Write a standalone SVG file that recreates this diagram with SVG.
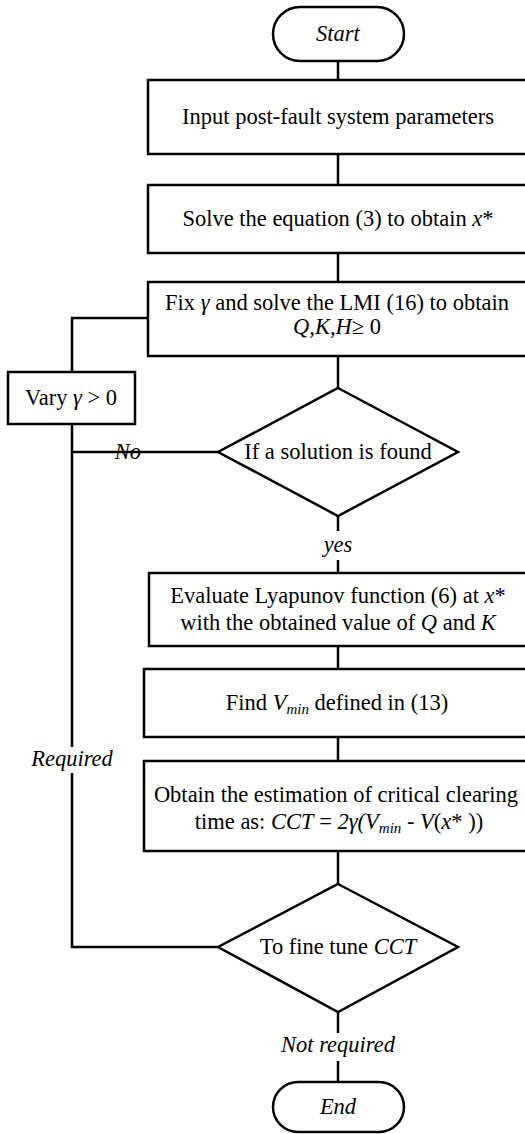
<svg xmlns="http://www.w3.org/2000/svg" width="525" height="1134" viewBox="0 0 525 1134" font-family="'Liberation Serif', 'Times New Roman', 'DejaVu Serif', serif" font-size="22.5">
<style>
  .shape { fill: #fff; stroke: #000; stroke-width: 2.5; }
  .line { fill: none; stroke: #000; stroke-width: 2.5; }
  text { font-family: 'Liberation Serif', 'Times New Roman', 'DejaVu Serif', serif; font-size: 22.5px; fill: #000; text-anchor: middle; }
  .it { font-style: italic; }
  .sub { font-size: 15px; font-style: italic; }
</style>
<rect width="525" height="1134" fill="#fff"/>
<g id="connectors">
  <line class="line" x1="338" y1="61" x2="338" y2="80"/>
  <line class="line" x1="338" y1="154" x2="338" y2="185"/>
  <line class="line" x1="338" y1="253" x2="338" y2="282"/>
  <line class="line" x1="338" y1="356" x2="338" y2="388"/>
  <line class="line" x1="338" y1="516" x2="338" y2="531"/>
  <line class="line" x1="338" y1="560" x2="338" y2="573"/>
  <line class="line" x1="338" y1="646" x2="338" y2="669"/>
  <line class="line" x1="338" y1="737" x2="338" y2="761"/>
  <line class="line" x1="338" y1="851" x2="338" y2="884"/>
  <line class="line" x1="338" y1="1012" x2="338" y2="1033"/>
  <line class="line" x1="338" y1="1061" x2="338" y2="1082"/>
  <polyline class="line" points="148,318 72,318 72,372"/>
  <line class="line" x1="72" y1="424" x2="72" y2="747"/>
  <polyline class="line" points="72,773 72,947 218,947"/>
  <line class="line" x1="72" y1="452" x2="218" y2="452"/>
  <text class="it" x="128" y="459">No</text>
  <text class="it" x="338" y="552">yes</text>
  <text class="it" x="72" y="766">Required</text>
  <text class="it" x="338" y="1052">Not required</text>
</g>
<g id="start">
  <rect class="shape" x="273" y="7" width="131" height="54" rx="27" ry="27"/>
  <text class="it" x="338" y="41">Start</text>
</g>
<g id="input">
  <rect class="shape" x="148" y="80" width="390" height="74"/>
  <text x="338" y="124">Input post-fault system parameters</text>
</g>
<g id="solve">
  <rect class="shape" x="148" y="185" width="390" height="68"/>
  <text x="338" y="226">Solve the equation (3) to obtain <tspan class="it">x</tspan>*</text>
</g>
<g id="lmi">
  <rect class="shape" x="148" y="282" width="390" height="74"/>
  <text x="337" y="310">Fix <tspan class="it">γ</tspan> and solve the LMI (16) to obtain</text>
  <text x="337" y="334"><tspan class="it">Q</tspan>,<tspan class="it">K</tspan>,<tspan class="it">H</tspan>≥ 0</text>
</g>
<g id="vary">
  <rect class="shape" x="8" y="372" width="127" height="52"/>
  <text x="71" y="405">Vary <tspan class="it">γ</tspan> &gt; 0</text>
</g>
<g id="decision1">
  <polygon class="shape" points="338,388 458,452 338,516 218,452"/>
  <text x="338" y="459">If a solution is found</text>
</g>
<g id="evaluate">
  <rect class="shape" x="149" y="573" width="390" height="73"/>
  <text x="338" y="603">Evaluate Lyapunov function (6) at <tspan class="it">x</tspan>*</text>
  <text x="338" y="630">with the obtained value of <tspan class="it">Q</tspan> and <tspan class="it">K</tspan></text>
</g>
<g id="vmin">
  <rect class="shape" x="144" y="669" width="395" height="68"/>
  <text x="337" y="710">Find <tspan class="it">V</tspan><tspan class="sub" dy="4">min</tspan><tspan dy="-4"> defined in (13)</tspan></text>
</g>
<g id="cct">
  <rect class="shape" x="144" y="761" width="395" height="90"/>
  <text x="336" y="802">Obtain the estimation of critical clearing</text>
  <text x="339" y="829">time as: <tspan class="it">CCT</tspan> = <tspan class="it">2γ(V</tspan><tspan class="sub" dy="4">min</tspan><tspan dy="-4"> - </tspan><tspan class="it">V</tspan>(<tspan class="it">x</tspan>* ))</text>
</g>
<g id="decision2">
  <polygon class="shape" points="338,884 458,947 338,1012 218,947"/>
  <text x="338" y="954">To fine tune <tspan class="it">CCT</tspan></text>
</g>
<g id="end">
  <rect class="shape" x="273" y="1082" width="131" height="50" rx="25" ry="25"/>
  <text class="it" x="338" y="1114">End</text>
</g>
</svg>
